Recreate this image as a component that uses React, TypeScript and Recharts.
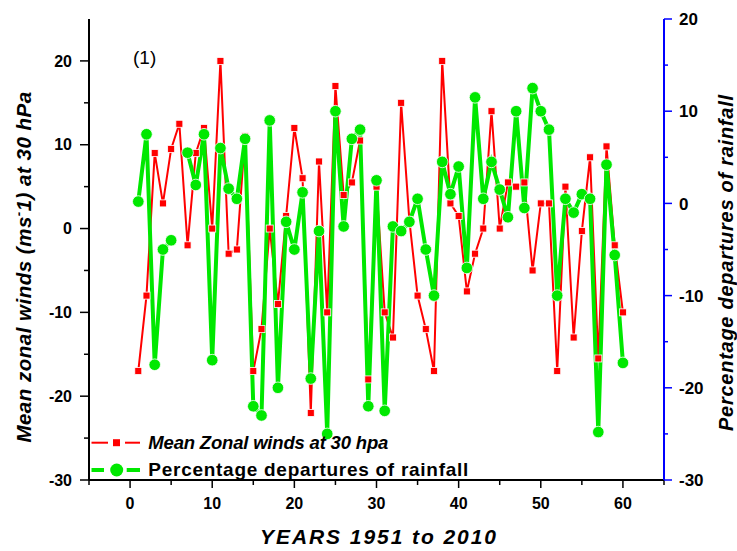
import React from 'react';
import { ComposedChart, Line, XAxis, YAxis, Legend, Customized } from 'recharts';

const yearIndex = [1, 2, 3, 4, 5, 6, 7, 8, 9, 10, 11, 12, 13, 14, 15, 16, 17, 18, 19, 20,
  21, 22, 23, 24, 25, 26, 27, 28, 29, 30, 31, 32, 33, 34, 35, 36, 37, 38, 39, 40,
  41, 42, 43, 44, 45, 46, 47, 48, 49, 50, 51, 52, 53, 54, 55, 56, 57, 58, 59, 60];

const windValues = [-17, -8, 9, 3, 9.5, 12.5, -2, 9, 12, 0, 20, -3, -2.5, 11, -17, -12, 0, -9, 1.5, 12,
  6, -22, 8, -10, 17, 4, 5.5, 10.5, -18, 5, -10, -13, 15, 1, -8, -12, -17, 20, 3, 1.5,
  -7.5, -3, 0, 14, 0, 5.5, 5, 5.5, -5, 3, 3, -17, 5, -13, -0.3, 8.5, -15.5, 9.8, -2, -10];

const rainValues: (number | null)[] = [0.2, 7.5, -17.5, -5, -4, null, 5.5, 2, 7.5, -17, 6, 1.6, 0.5, 7, -22, -23, 9, -20, -2, -5,
  1.2, -19, -3, -25, 10, -2.5, 7, 8, -22, 2.5, -22.5, -2.5, -3, -2, 0.5, -5, -10, 4.5, 1, 4,
  -7, 11.5, 0.5, 4.5, 1.5, -1.5, 10, -0.5, 12.5, 10, 8, -10, 0.5, -1, 1, 0.5, -24.8, 4.2, -5.6, -17.3];

const xTicks = [-5, 0, 5, 10, 15, 20, 25, 30, 35, 40, 45, 50, 55, 60, 65];
const leftTicks = [-30, -25, -20, -15, -10, -5, 0, 5, 10, 15, 20];
const rightTicks = [-30, -25, -20, -15, -10, -5, 0, 5, 10, 15, 20];

const windName = 'Mean Zonal winds at 30 hpa';
const rainName = 'Percentage departures of rainfall';
const xTitle = 'YEARS 1951 to 2010';
const rightTitle = 'Percentage departures of rainfall';
const panelTag = '(1)';

const RED = '#ff0000';
const GREEN = '#00e800';
const BLUE = '#0000ff';
const FONT = '"Liberation Sans", Arial, sans-serif';

const data = yearIndex.map((x, i) => ({ x, wind: windValues[i], rain: rainValues[i] }));

const BottomTick = (p: any) => {
  const { x, y, payload } = p;
  const v = payload.value;
  const major = v % 10 === 0 && v >= 0 && v <= 60;
  return (
    <g>
      <line x1={x} x2={x} y1={y} y2={y + (major ? 8 : 5)} stroke="#000" strokeWidth={1.5} />
      {major && (
        <text x={x} y={y + 29} textAnchor="middle" fontFamily={FONT} fontWeight="bold" fontSize={16} fill="#000">{v}</text>
      )}
    </g>
  );
};

const TopTick = (p: any) => {
  const { x, y, payload } = p;
  const v = payload.value;
  const major = v % 10 === 0;
  return <line x1={x} x2={x} y1={y} y2={y + (major ? 8 : 5)} stroke="#000" strokeWidth={1.5} />;
};

const LeftTick = (p: any) => {
  const { x, y, payload } = p;
  const v = payload.value;
  const major = v % 10 === 0;
  return (
    <g>
      <line x1={x - (major ? 9 : 5)} x2={x} y1={y} y2={y} stroke="#000" strokeWidth={1.5} />
      {major && (
        <text x={x - 17} y={y} dy="0.36em" textAnchor="end" fontFamily={FONT} fontWeight="bold" fontSize={16} fill="#000">{v}</text>
      )}
    </g>
  );
};

const RightTick = (p: any) => {
  const { x, y, payload } = p;
  const v = payload.value;
  const major = v % 10 === 0;
  return (
    <g>
      <line x1={x} x2={x + (major ? 8 : 4)} y1={y} y2={y} stroke={BLUE} strokeWidth={1.5} />
      {major && (
        <text x={x + 15} y={y} dy="0.36em" textAnchor="start" fontFamily={FONT} fontWeight="bold" fontSize={17} fill="#000">{v}</text>
      )}
    </g>
  );
};

const SquareDot = (p: any) => {
  const { cx, cy, index } = p;
  if (cx == null || cy == null || p.value == null) return <g key={`ws${index}`} />;
  return <rect key={`ws${index}`} x={cx - 3.5} y={cy - 3.5} width={7} height={7} fill={RED} stroke="#fff" strokeWidth={0.8} />;
};

const CircleDot = (p: any) => {
  const { cx, cy, index } = p;
  if (cx == null || cy == null || p.value == null) return <g key={`rc${index}`} />;
  return <circle key={`rc${index}`} cx={cx} cy={cy} r={5.8} fill={GREEN} stroke="#fff" strokeWidth={0.8} />;
};

const LegendBox = () => (
  <svg width={420} height={60} style={{ display: 'block', overflow: 'visible' }}>
    <line x1={3.5} x2={20} y1={14.7} y2={14.7} stroke={RED} strokeWidth={2} />
    <rect x={25} y={11.2} width={7} height={7} fill={RED} />
    <line x1={37} x2={52} y1={14.7} y2={14.7} stroke={RED} strokeWidth={2} />
    <text x={60.3} y={21} fontFamily={FONT} fontWeight="bold" fontStyle="italic" fontSize={18.5} textLength={240} lengthAdjust="spacing" fill="#000">{windName}</text>
    <line x1={3.5} x2={16} y1={42} y2={42} stroke={GREEN} strokeWidth={4} />
    <circle cx={28.7} cy={42} r={6.5} fill={GREEN} />
    <line x1={38.7} x2={52} y1={42} y2={42} stroke={GREEN} strokeWidth={4} />
    <text x={60.3} y={48} fontFamily={FONT} fontWeight="bold" fontSize={19} textLength={320} lengthAdjust="spacing" fill="#000">{rainName}</text>
  </svg>
);

const Texts = () => (
  <g fontFamily={FONT} fill="#000">
    <text x={133} y={64} fontSize={19}>{panelTag}</text>
    <text x={378} y={544} textAnchor="middle" fontWeight="bold" fontStyle="italic" fontSize={21} textLength={236} lengthAdjust="spacing">{xTitle}</text>
    <text transform="translate(31,267) rotate(-90)" textAnchor="middle" fontWeight="bold" fontStyle="italic" fontSize={20.5} letterSpacing={0.5}>
      <tspan>Mean zonal winds (ms</tspan>
      <tspan dy={-8} fontSize={13}>-</tspan>
      <tspan dy={8}>1) at 30 hPa</tspan>
    </text>
    <text transform="translate(733,263) rotate(-90)" textAnchor="middle" fontWeight="bold" fontStyle="italic" fontSize={20} textLength={336} lengthAdjust="spacing">{rightTitle}</text>
  </g>
);

export default function App() {
  return (
    <div style={{ position: 'absolute', left: 0, top: 0, width: 737, height: 551, background: '#fff' }}>
      <ComposedChart width={737} height={551} data={data} margin={{ top: 19, right: 0, bottom: 0, left: 0 }}>
        <XAxis
          xAxisId="bottom"
          dataKey="x"
          type="number"
          domain={[-5, 65]}
          ticks={xTicks}
          interval={0}
          height={71}
          tickSize={0}
          tickMargin={0}
          tickLine={false}
          axisLine={{ stroke: '#000', strokeWidth: 2 }}
          tick={<BottomTick />}
        />
        <XAxis
          xAxisId="top"
          orientation="top"
          dataKey="x"
          type="number"
          domain={[-5, 65]}
          ticks={xTicks}
          interval={0}
          height={0}
          tickSize={0}
          tickMargin={0}
          tickLine={false}
          axisLine={{ stroke: '#000', strokeWidth: 2 }}
          tick={<TopTick />}
        />
        <YAxis
          yAxisId="left"
          type="number"
          domain={[-30, 25]}
          ticks={leftTicks}
          interval={0}
          width={89}
          tickSize={0}
          tickMargin={0}
          tickLine={false}
          axisLine={{ stroke: '#000', strokeWidth: 2 }}
          tick={<LeftTick />}
        />
        <YAxis
          yAxisId="right"
          orientation="right"
          type="number"
          domain={[-30, 20]}
          ticks={rightTicks}
          interval={0}
          width={73}
          tickSize={0}
          tickMargin={0}
          tickLine={false}
          axisLine={{ stroke: BLUE, strokeWidth: 2 }}
          tick={<RightTick />}
        />
        <Line
          xAxisId="bottom"
          yAxisId="left"
          type="linear"
          dataKey="wind"
          name={windName}
          stroke={RED}
          strokeWidth={2}
          dot={SquareDot}
          activeDot={false}
          isAnimationActive={false}
        />
        <Line
          xAxisId="bottom"
          yAxisId="right"
          type="linear"
          dataKey="rain"
          name={rainName}
          stroke={GREEN}
          strokeWidth={4}
          dot={CircleDot}
          activeDot={false}
          connectNulls={false}
          isAnimationActive={false}
        />
        <Legend
          layout="vertical"
          verticalAlign="middle"
          align="center"
          content={<LegendBox />}
          wrapperStyle={{ position: 'absolute', left: 88, top: 428, width: 420, height: 60 }}
        />
        <Customized component={Texts} />
      </ComposedChart>
    </div>
  );
}
